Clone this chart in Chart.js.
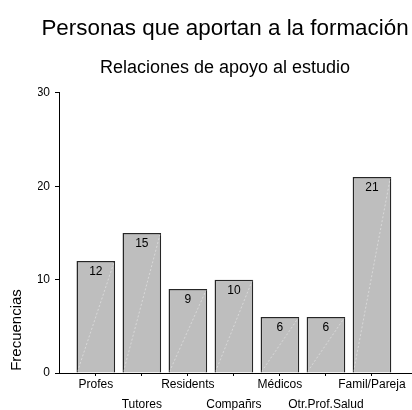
<!DOCTYPE html>
<html>
<head>
<meta charset="utf-8">
<script src="https://cdn.jsdelivr.net/npm/chart.js@4/dist/chart.umd.min.js"></script>
<style>
  html, body { margin: 0; padding: 0; background: #fff; }
  canvas { display: block; }
</style>
</head>
<body>
<canvas id="chart" width="412" height="410"></canvas>
<script>
// Who contributes to the training: frequency per group
const categories = ['Profes', 'Tutores', 'Residents', 'Compañrs', 'Médicos', 'Otr.Prof.Salud', 'Famil/Pareja'];
const frequencies = [12, 15, 9, 10, 6, 6, 21];
const yTicks = [0, 10, 20, 30];

const FONT = "'Liberation Sans', Arial, Helvetica, sans-serif";

// Value printed inside each bar near its top, plus the faint diagonal stroke
const barDecor = {
  id: 'barDecor',
  afterDatasetsDraw(chart) {
    const ctx = chart.ctx;
    const meta = chart.getDatasetMeta(0);
    ctx.save();
    meta.data.forEach((bar, i) => {
      const p = bar.getProps(['x', 'y', 'base', 'width'], true);
      const left = p.x - p.width / 2 + 1;
      const right = p.x + p.width / 2 - 1;
      ctx.strokeStyle = 'rgba(255,255,255,0.4)';
      ctx.lineWidth = 1;
      ctx.setLineDash([2, 2]);
      ctx.beginPath();
      ctx.moveTo(left, p.base - 1);
      ctx.lineTo(right, p.y + 1);
      ctx.stroke();
      ctx.setLineDash([]);
      ctx.fillStyle = '#000';
      ctx.font = '12px ' + FONT;
      ctx.textAlign = 'center';
      ctx.textBaseline = 'middle';
      ctx.fillText(String(frequencies[i]), p.x, p.y + 11);
    });
    ctx.restore();
  }
};

// Vertical axis caption, set low beside the axis
const yCaption = {
  id: 'yCaption',
  afterDraw(chart) {
    const ctx = chart.ctx;
    ctx.save();
    ctx.translate(17, 330);
    ctx.rotate(-Math.PI / 2);
    ctx.fillStyle = '#000';
    ctx.font = '15px ' + FONT;
    ctx.textAlign = 'center';
    ctx.textBaseline = 'middle';
    ctx.fillText('Frecuencias', 0, 0);
    ctx.restore();
  }
};

new Chart(document.getElementById('chart'), {
  type: 'bar',
  data: {
    datasets: [{
      data: frequencies.map((v, i) => ({ x: i, y: v })),
      backgroundColor: '#bebebe',
      borderColor: '#262626',
      borderWidth: 1.5,
      categoryPercentage: 1,
      barPercentage: 0.84
    }]
  },
  options: {
    responsive: false,
    animation: false,
    devicePixelRatio: 1,
    layout: { padding: { left: 38, right: 0, top: 0, bottom: 0 } },
    plugins: {
      legend: { display: false },
      tooltip: { enabled: false },
      title: {
        display: true,
        text: 'Personas que aportan a la formación',
        color: '#000',
        font: { family: FONT, size: 22.4, weight: 'normal', lineHeight: 1.2 },
        padding: { top: 15, bottom: 0 }
      },
      subtitle: {
        display: true,
        text: 'Relaciones de apoyo al estudio',
        color: '#000',
        font: { family: FONT, size: 18, weight: 'normal', lineHeight: 1.2 },
        padding: { top: 15, bottom: 14.5 }
      }
    },
    scales: {
      x: {
        type: 'linear',
        offset: false,
        min: -0.8,
        max: 6.87,
        afterBuildTicks(scale) { scale.ticks = categories.map((_, i) => ({ value: i })); },
        afterFit(scale) { scale.height = 37; },
        grid: { offset: false, drawOnChartArea: false, drawTicks: true, tickLength: 3, color: '#000' },
        border: { display: true, color: '#000', width: 1 },
        ticks: {
          color: '#000',
          padding: -1,
          maxRotation: 0,
          autoSkip: false,
          font: { family: FONT, size: 12, lineHeight: 1.67 },
          callback(value) {
            const i = Math.round(value);
            return i % 2 ? ['', categories[i]] : categories[i];
          }
        }
      },
      y: {
        min: 0,
        max: 30,
        afterBuildTicks(scale) { scale.ticks = yTicks.map(v => ({ value: v })); },
        afterFit(scale) { scale.width = 21; },
        grid: { drawOnChartArea: false, drawTicks: true, tickLength: 4, color: '#000' },
        border: { display: true, color: '#000', width: 1 },
        ticks: {
          color: '#000',
          padding: 5,
          font: { family: FONT, size: 12 }
        }
      }
    }
  },
  plugins: [barDecor, yCaption]
});
</script>
</body>
</html>
